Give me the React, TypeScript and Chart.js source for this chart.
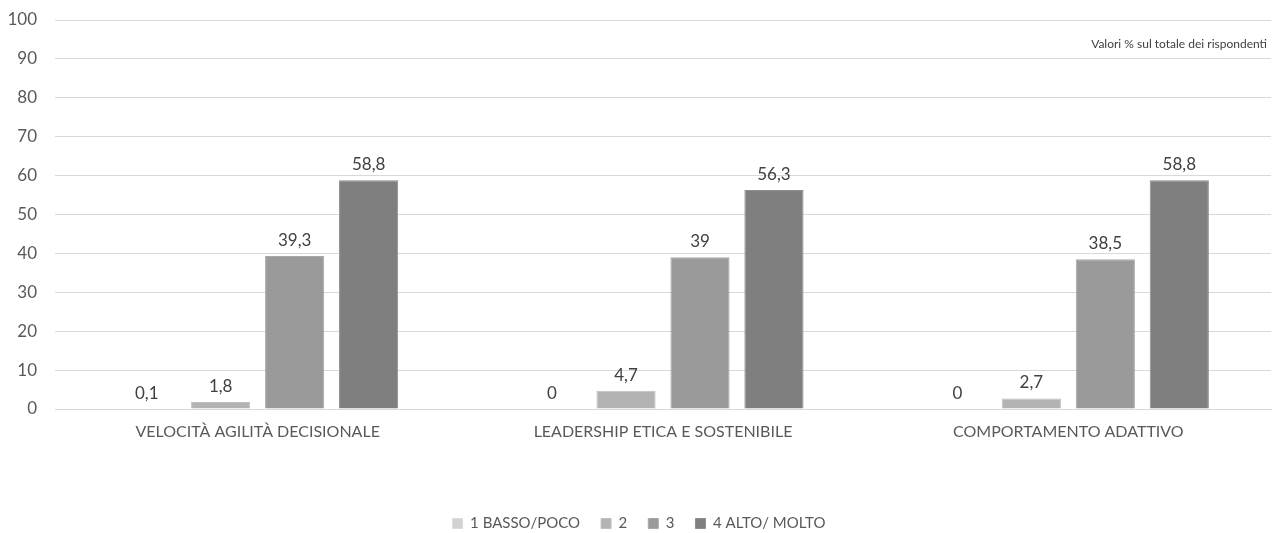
import React, { useEffect, useRef } from "react";
import { Chart, registerables } from "chart.js";

Chart.register(...registerables);

const categories = ["VELOCITÀ AGILITÀ DECISIONALE", "LEADERSHIP ETICA E SOSTENIBILE", "COMPORTAMENTO ADATTIVO"];
const seriesNames = ["1 BASSO/POCO", "2", "3", "4 ALTO/ MOLTO"];
const series1 = [0.1, 0, 0];
const series2 = [1.8, 4.7, 2.7];
const series3 = [39.3, 39, 38.5];
const series4 = [58.8, 56.3, 58.8];
const seriesColors = ["#d2d2d2", "#b3b3b3", "#9a9a9a", "#7f7f7f"];
const borderColors = ["#dcdcdc", "#c0c0c0", "#a8a8a8", "#8e8e8e"];
const yTicks = { min: 0, max: 100, step: 10 };
const note = "Valori % sul totale dei rispondenti";

const FONT = "Lato, 'Open Sans', sans-serif";
const TEXT = "#595959";

const fmt = (v: number) => String(v).replace(".", ",");

const labelsPlugin = {
  id: "valueLabels",
  afterDatasetsDraw(chart: any) {
    const ctx = chart.ctx;
    ctx.save();
    ctx.font = `17px ${FONT}`;
    ctx.fillStyle = "#404040";
    ctx.textAlign = "center";
    ctx.textBaseline = "bottom";
    chart.data.datasets.forEach((ds: any, i: number) => {
      const meta = chart.getDatasetMeta(i);
      meta.data.forEach((bar: any, j: number) => {
        ctx.fillText(fmt(ds.data[j]), bar.x, bar.y - 7);
      });
    });
    ctx.restore();
  },
  afterDraw(chart: any) {
    const ctx = chart.ctx;
    ctx.save();
    ctx.font = `12px ${FONT}`;
    ctx.fillStyle = "#404040";
    ctx.textAlign = "right";
    ctx.textBaseline = "middle";
    ctx.fillText(note, chart.chartArea.right - 4, 44);
    ctx.restore();
  },
};

export default function App() {
  const ref = useRef<HTMLCanvasElement>(null);
  useEffect(() => {
    document.body.style.margin = "0";
    const data = [series1, series2, series3, series4];
    const chart = new Chart(ref.current!, {
      type: "bar",
      data: {
        labels: categories,
        datasets: data.map((d, i) => ({
          label: seriesNames[i],
          data: d,
          backgroundColor: seriesColors[i],
          borderColor: borderColors[i],
          borderWidth: 1,
          categoryPercentage: 0.73,
          barPercentage: 0.8,
        })),
      },
      options: {
        animation: false,
        responsive: false,
        layout: { padding: { left: 7, right: 8, top: 20, bottom: -8 } },
        plugins: {
          tooltip: { enabled: false },
          legend: {
            position: "bottom",
            labels: {
              boxWidth: 10,
              boxHeight: 10,
              padding: 21,
              color: TEXT,
              font: { family: FONT, size: 15 },
            },
          },
        },
        scales: {
          x: {
            grid: { display: false },
            border: { color: "#d9d9d9" },
            ticks: { color: TEXT, font: { family: FONT, size: 16 }, padding: 5 },
            afterFit(scale: any) {
              scale.height = 86;
            },
          },
          y: {
            min: yTicks.min,
            max: yTicks.max,
            border: { display: false },
            grid: { color: "#d9d9d9", drawTicks: false },
            ticks: {
              stepSize: yTicks.step,
              color: TEXT,
              font: { family: FONT, size: 17 },
              padding: 18,
            },
            afterFit(scale: any) {
              scale.width = 48;
              scale.paddingTop = 4;
              scale.paddingBottom = 4;
            },
          },
        },
      },
      plugins: [labelsPlugin],
    } as any);
    return () => chart.destroy();
  }, []);
  return (
    <div style={{ position: "absolute", left: 0, top: 0 }}>
      <canvas ref={ref} width={1279} height={533} />
    </div>
  );
}
